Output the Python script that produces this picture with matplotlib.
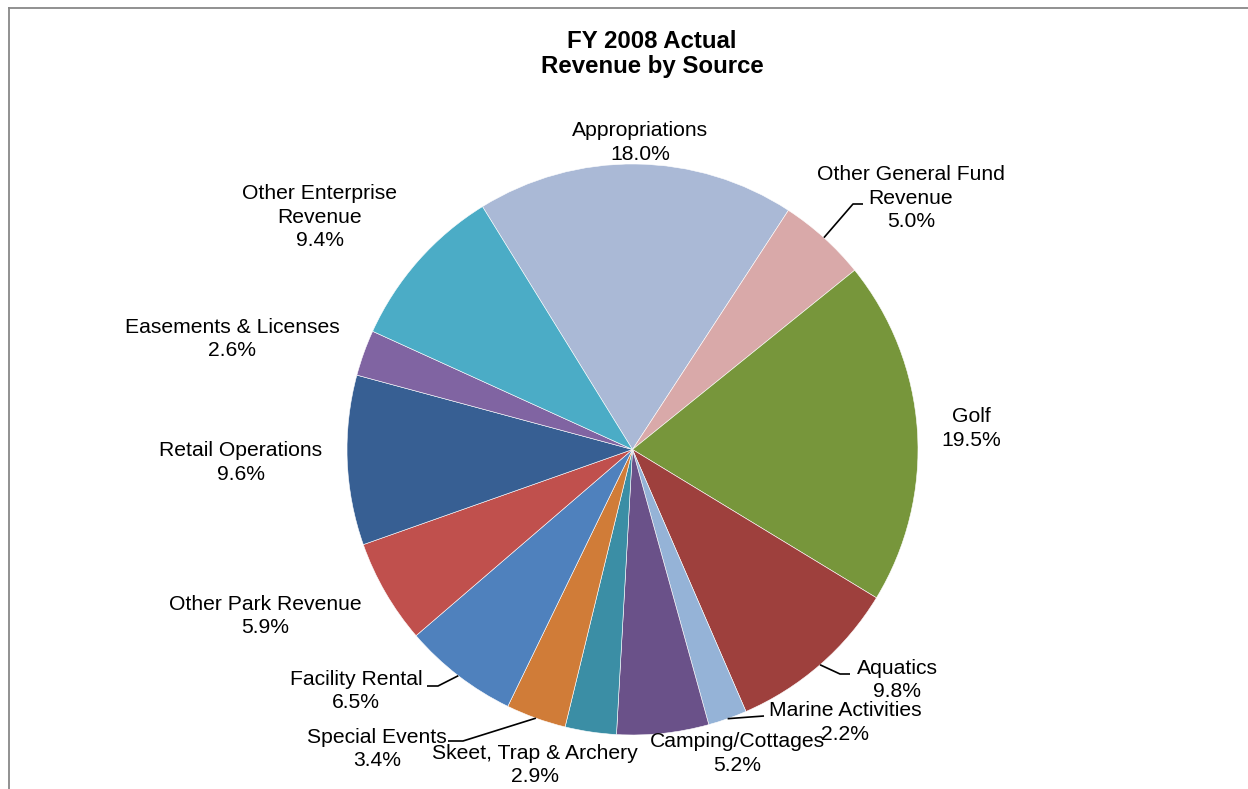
import numpy as np
import matplotlib
matplotlib.use("Agg")
import matplotlib.pyplot as plt
from matplotlib.lines import Line2D

plt.rcParams['font.family'] = ['Liberation Sans', 'DejaVu Sans']

# ---- data ----
categories = ["Appropriations", "Other General Fund\nRevenue", "Golf", "Aquatics",
              "Marine Activities", "Camping/Cottages", "Skeet, Trap & Archery",
              "Special Events", "Facility Rental", "Other Park Revenue",
              "Retail Operations", "Easements & Licenses", "Other Enterprise\nRevenue"]
shares = [18.0, 5.0, 19.5, 9.8, 2.2, 5.2, 2.9, 3.4, 6.5, 5.9, 9.6, 2.6, 9.4]
colors = ["#AAB9D6", "#D9A9A9", "#77963B", "#9E403D", "#95B3D7", "#6A5189",
          "#3B8EA5", "#D07C38", "#4F81BD", "#C0504D", "#375F93", "#8064A2",
          "#4BACC6"]

W, H = 1248, 789
fig = plt.figure(figsize=(W / 100, H / 100), dpi=100)
ax = fig.add_axes([0, 0, 1, 1])

def py(y):
    return H - y

cx, cy, R = 632.5, py(449.5), 285.5
wedges, _ = ax.pie(shares, colors=colors, startangle=121.7, counterclock=False,
                   center=(cx, cy), radius=R,
                   wedgeprops=dict(edgecolor="white", linewidth=0.4))
ax.set_xlim(0, W)
ax.set_ylim(0, H)
ax.set_aspect('equal')
ax.axis('off')

# label block centres (pixels)
label_pos = [(640, 142.5), (911, 198), (971, 428.5), (897, 680), (845, 722.5),
             (737, 753.5), (535, 765), (377, 749), (356, 691), (265, 616),
             (241, 462.5), (232, 339), (320, 217)]
for name, v, (lx, ly) in zip(categories, shares, label_pos):
    ax.text(lx, py(ly), f"{name}\n{v:.1f}%", ha='center', va='center',
            fontsize=15.2, color='black', linespacing=1.32)

# leader lines: (wedge index, elbow point, end point) in pixels
leaders = [(1, (853, 204), (863, 204)),
           (3, (840, 674), (850, 674)),
           (4, (750, 717), (764, 716)),
           (7, (463, 741), (448, 741)),
           (8, (438, 686), (427, 686))]
for idx, (ex, ey), (fx, fy) in leaders:
    w = wedges[idx]
    mid = np.deg2rad((w.theta1 + w.theta2) / 2)
    sx, sy = cx + R * np.cos(mid), cy + R * np.sin(mid)
    ax.plot([sx, ex, fx], [sy, py(ey), py(fy)], color='black', lw=1.2,
            solid_capstyle='butt')

ax.text(652, py(54), "FY 2008 Actual\nRevenue by Source", ha='center', va='center',
        fontsize=17.3, fontweight='bold', linespacing=1.14)

# chart border (top and left visible)
fig.add_artist(Line2D([8.5 / W, 1], [1 - 7.5 / H, 1 - 7.5 / H], color='#888888', lw=1.3))
fig.add_artist(Line2D([8.5 / W, 8.5 / W], [0, 1 - 7.5 / H], color='#888888', lw=1.3))

fig.savefig("out.png", dpi=100)
